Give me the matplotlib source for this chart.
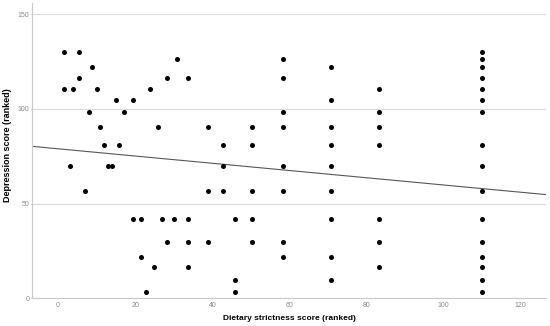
import matplotlib.pyplot as plt

# Data (ranked scores)
strictness = [1.5, 1.5, 3.0, 3.9, 5.5, 5.5, 6.9, 8.0, 8.8, 10.0, 11.0, 12.0, 12.9, 14.0,
              15.0, 15.9, 17.0, 19.5, 19.5, 21.4, 21.4, 22.9, 23.9, 25.0, 25.9, 27.0,
              28.3, 28.3, 30.0, 30.8,
              33.8, 33.8, 33.8, 33.8,
              38.9, 38.9, 38.9,
              42.9, 42.9, 42.9,
              45.9, 45.9, 45.9,
              50.4, 50.4, 50.4, 50.4, 50.4,
              58.4, 58.4, 58.4, 58.4, 58.4, 58.4, 58.4, 58.4,
              70.9, 70.9, 70.9, 70.9, 70.9, 70.9, 70.9, 70.9, 70.9,
              83.2, 83.2, 83.2, 83.2, 83.2, 83.2, 83.2,
              109.9, 109.9, 109.9, 109.9, 109.9, 109.9, 109.9, 109.9,
              109.9, 109.9, 109.9, 109.9, 109.9, 109.9, 109.9, 109.9]
depression = [130, 110.5, 70, 110.5, 130, 116.5, 56.5, 98.5, 122, 110.5, 90.5, 81, 70, 70,
              104.5, 81, 98.5, 104.5, 42, 42, 22, 3.5, 110.5, 16.5, 90.5, 42,
              116.5, 29.5, 42, 126.5,
              116.5, 42, 29.5, 16.5,
              90.5, 56.5, 29.5,
              81, 70, 56.5,
              42, 9.5, 3.5,
              90.5, 81, 56.5, 42, 29.5,
              126.5, 116.5, 98.5, 90.5, 70, 56.5, 29.5, 22,
              122, 104.5, 90.5, 81, 70, 56.5, 42, 22, 9.5,
              110.5, 98.5, 90.5, 81, 42, 29.5, 16.5,
              130, 126.5, 122, 116.5, 110.5, 104.5, 98.5, 81,
              70, 56.5, 42, 29.5, 22, 16.5, 9.5, 3.5]

# fit line as drawn in the reference
fit_intercept = 78.9
fit_slope = -0.191

x_ticks = [0, 20, 40, 60, 80, 100, 120]
y_ticks = [0, 50, 100, 150]

plt.rcParams['font.family'] = ['Liberation Sans', 'DejaVu Sans']

fig = plt.figure(figsize=(5.5, 3.26), dpi=100)
ax = fig.add_axes([0.0587, 0.085, 0.934, 0.905])

ax.set_xlim(-6.7, 126.6)
ax.set_ylim(0, 155.7)

ax.grid(axis='y', color='#d9d9d9', linewidth=0.8)
ax.set_axisbelow(True)

ax.scatter(strictness, depression, s=13, color='black', zorder=3, linewidths=0)

xs = [-6.7, 126.6]
ax.plot(xs, [fit_intercept + fit_slope * v for v in xs], color='#555555', linewidth=0.8, zorder=2)

ax.set_xticks(x_ticks)
ax.set_yticks(y_ticks)
ax.tick_params(axis='both', labelsize=5, colors='#888888', width=0.5)
ax.tick_params(axis='x', length=0, pad=3)
ax.tick_params(axis='y', length=1, pad=1)

for side in ['top', 'right']:
    ax.spines[side].set_visible(False)
for side in ['left', 'bottom']:
    ax.spines[side].set_color('#c8c8c8')
    ax.spines[side].set_linewidth(0.8)

ax.set_xlabel('Dietary strictness score (ranked)', fontsize=6, fontweight='bold', labelpad=4)
ax.set_ylabel('Depression score (ranked)', fontsize=6.5, fontweight='bold')
ax.yaxis.set_label_coords(-0.039, 0.52)

fig.savefig('out.png', dpi=100)
